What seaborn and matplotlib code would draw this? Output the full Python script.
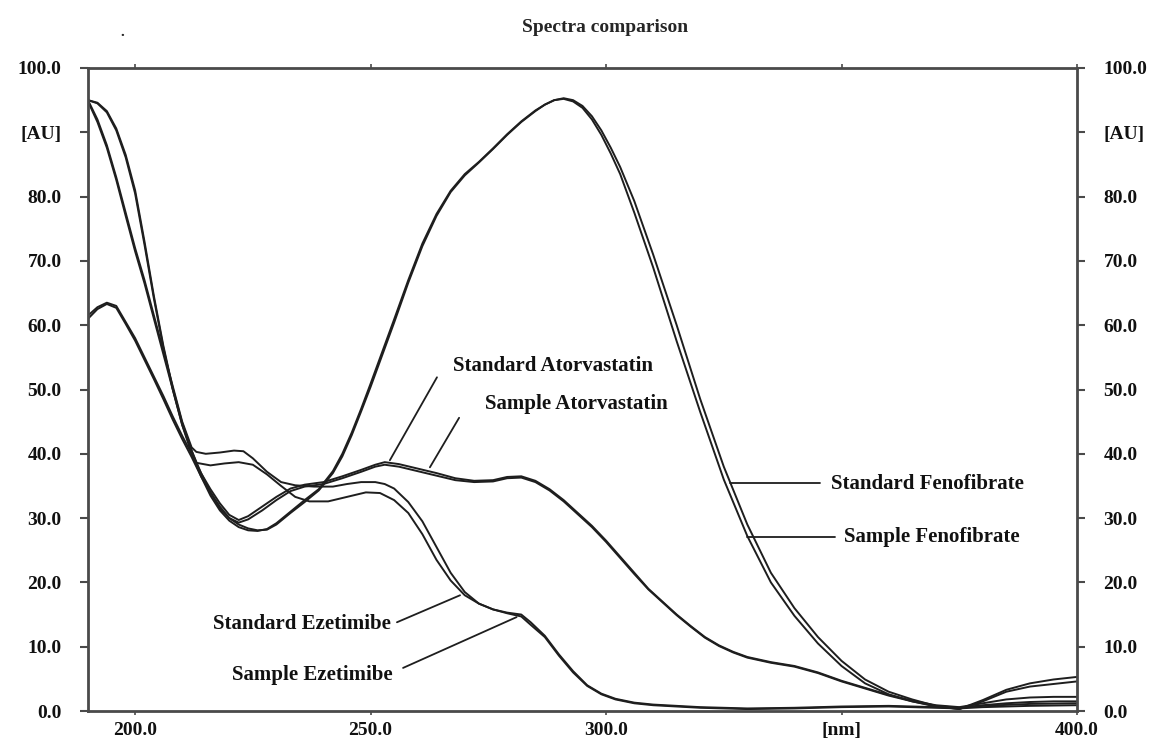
import matplotlib
matplotlib.use("Agg")
import matplotlib.pyplot as plt
import seaborn as sns

# --------------------------------------------------------------
# Spectra (wavelength in nm, absorbance in AU)
# --------------------------------------------------------------
std_feno_wl = [190, 192, 194, 196, 198, 200, 202, 204, 206, 208, 210, 212, 214, 216, 218, 220,
               222, 224, 226, 228, 230, 233, 236, 239, 242, 244, 246, 248, 250, 252, 255, 258,
               261, 264, 267, 270, 273, 276, 279, 282, 285, 287, 289, 291, 293, 295, 297, 299,
               301, 303, 306, 310, 315, 320, 325, 330, 335, 340, 345, 350, 355, 360, 365, 370,
               375, 380, 385, 390, 395, 400]
std_feno_au = [95.0, 94.6, 93.3, 90.6, 86.5, 81.0, 73.0, 64.5, 56.8, 50.2, 44.8, 40.5, 37.0, 34.0, 31.5, 30.0,
               29.0, 28.4, 28.1, 28.2, 29.0, 30.8, 32.5, 34.3, 37.0, 39.6, 42.9, 46.6, 50.4, 54.4, 60.4, 66.6,
               72.3, 77.0, 80.7, 83.3, 85.3, 87.4, 89.6, 91.6, 93.3, 94.3, 95.0, 95.3, 95.0, 94.1, 92.5, 90.3,
               87.6, 84.6, 79.3, 71.0, 60.0, 48.5, 38.0, 29.0, 21.5, 16.0, 11.5, 7.8, 4.9, 3.0, 1.8, 0.8,
               0.3, 1.7, 3.3, 4.3, 4.9, 5.3]

smp_feno_wl = [190, 192, 194, 196, 198, 200, 202, 204, 206, 208, 210, 212, 214, 216, 218, 220,
               222, 224, 226, 228, 230, 233, 236, 239, 242, 244, 246, 248, 250, 252, 255, 258,
               261, 264, 267, 270, 273, 276, 279, 282, 285, 287, 289, 291, 293, 295, 297, 299,
               301, 303, 306, 310, 315, 320, 325, 330, 335, 340, 345, 350, 355, 360, 365, 370,
               375, 380, 385, 390, 395, 400]
smp_feno_au = [95.0, 94.5, 93.1, 90.3, 86.1, 80.5, 72.5, 64.1, 56.5, 50.0, 44.5, 40.0, 36.5, 33.5, 31.2, 29.6,
               28.6, 28.1, 28.0, 28.3, 29.2, 31.0, 32.8, 34.5, 37.3, 40.0, 43.3, 47.0, 50.9, 54.9, 60.9, 67.0,
               72.7, 77.3, 80.9, 83.5, 85.4, 87.5, 89.7, 91.7, 93.4, 94.3, 95.0, 95.2, 94.8, 93.8, 92.0, 89.6,
               86.7, 83.5, 77.5, 69.0, 57.5, 46.5, 36.0, 27.2, 20.0, 14.8, 10.5, 7.0, 4.3, 2.6, 1.5, 0.7,
               0.3, 1.5, 3.0, 3.8, 4.2, 4.6]

std_ator_wl = [190, 192, 194, 196, 198, 200, 202, 204, 206, 208, 210, 212, 214, 216, 218, 220,
               222, 224, 227, 230, 233, 236, 240, 244, 248, 251, 253, 256, 260, 264, 268, 272,
               276, 279, 282, 285, 288, 291, 294, 297, 300, 303, 306, 309, 312, 315, 318, 321,
               324, 327, 330, 335, 340, 345, 350, 355, 360, 365, 370, 375, 380, 385, 390, 395, 400]
std_ator_au = [61.5, 62.8, 63.5, 63.0, 60.5, 58.0, 55.0, 52.0, 49.0, 45.8, 42.8, 40.0, 37.0, 34.5, 32.3, 30.5,
               29.7, 30.3, 31.8, 33.3, 34.6, 35.2, 35.6, 36.5, 37.5, 38.3, 38.7, 38.4, 37.7, 37.0, 36.2, 35.8,
               35.9, 36.4, 36.5, 35.8, 34.5, 32.8, 30.8, 28.8, 26.5, 24.0, 21.5, 19.0, 17.0, 15.0, 13.2, 11.5,
               10.2, 9.2, 8.4, 7.6, 7.0, 6.0, 4.7, 3.6, 2.5, 1.6, 0.9, 0.6, 1.2, 1.8, 2.1, 2.2, 2.2]

smp_ator_wl = [190, 192, 194, 196, 198, 200, 202, 204, 206, 208, 210, 212, 214, 216, 218, 220,
               222, 224, 227, 230, 233, 236, 240, 244, 248, 251, 253, 256, 260, 264, 268, 272,
               276, 279, 282, 285, 288, 291, 294, 297, 300, 303, 306, 309, 312, 315, 318, 321,
               324, 327, 330, 335, 340, 345, 350, 355, 360, 365, 370, 375, 380, 385, 390, 395, 400]
smp_ator_au = [61.0, 62.5, 63.3, 62.7, 60.2, 57.6, 54.6, 51.6, 48.5, 45.3, 42.3, 39.5, 36.5, 34.0, 31.8, 30.0,
               29.3, 29.8, 31.2, 32.8, 34.2, 34.9, 35.3, 36.2, 37.2, 38.0, 38.3, 38.0, 37.3, 36.6, 35.9, 35.6,
               35.7, 36.2, 36.3, 35.6, 34.3, 32.6, 30.6, 28.6, 26.3, 23.8, 21.3, 18.9, 16.9, 14.9, 13.1, 11.4,
               10.1, 9.1, 8.3, 7.5, 6.9, 5.9, 4.6, 3.5, 2.4, 1.5, 0.8, 0.5, 0.9, 1.2, 1.4, 1.5, 1.5]

std_ezet_wl = [190, 192, 194, 196, 198, 200, 202, 204, 206, 208, 210, 212, 213, 215, 218, 221,
               223, 225, 228, 231, 234, 238, 242, 245, 248, 251, 253, 255, 258, 261, 264, 267,
               270, 273, 276, 279, 282, 284, 287, 290, 293, 296, 299, 302, 306, 310, 320, 330,
               340, 350, 360, 370, 375, 380, 390, 400]
std_ezet_au = [95.0, 92.0, 88.0, 83.0, 77.5, 72.0, 67.0, 61.5, 56.0, 50.5, 45.0, 41.0, 40.3, 40.0, 40.2, 40.5,
               40.4, 39.3, 37.2, 35.6, 35.1, 34.9, 34.9, 35.3, 35.6, 35.6, 35.3, 34.6, 32.5, 29.5, 25.5, 21.5,
               18.5, 16.7, 15.8, 15.3, 15.0, 13.8, 11.7, 8.8, 6.2, 4.0, 2.7, 1.9, 1.3, 1.0, 0.6, 0.4,
               0.5, 0.7, 0.8, 0.6, 0.5, 0.8, 1.1, 1.2]

smp_ezet_wl = [190, 192, 194, 196, 198, 200, 202, 204, 206, 208, 210, 212, 213, 216, 219, 222,
               225, 228, 231, 234, 237, 241, 245, 249, 252, 255, 258, 261, 264, 267, 270, 273,
               276, 279, 282, 284, 287, 290, 293, 296, 299, 302, 306, 310, 320, 330, 340, 350,
               360, 370, 375, 380, 390, 400]
smp_ezet_au = [94.8, 91.6, 87.6, 82.6, 77.0, 71.5, 66.5, 61.0, 55.5, 50.0, 44.5, 40.5, 38.6, 38.2, 38.5, 38.7,
               38.3, 36.8, 35.0, 33.3, 32.6, 32.6, 33.3, 34.0, 33.9, 32.8, 30.8, 27.5, 23.5, 20.3, 18.0, 16.7,
               15.8, 15.2, 14.7, 13.4, 11.5, 8.6, 6.0, 3.9, 2.6, 1.8, 1.2, 0.9, 0.5, 0.3, 0.4, 0.6,
               0.7, 0.5, 0.4, 0.6, 0.8, 0.9]

series = [
    ("Standard Fenofibrate", std_feno_wl, std_feno_au),
    ("Sample Fenofibrate", smp_feno_wl, smp_feno_au),
    ("Standard Atorvastatin", std_ator_wl, std_ator_au),
    ("Sample Atorvastatin", smp_ator_wl, smp_ator_au),
    ("Standard Ezetimibe", std_ezet_wl, std_ezet_au),
    ("Sample Ezetimibe", smp_ezet_wl, smp_ezet_au),
]

# callout labels: text centre, then leader line start/end
label_names = ["Standard Atorvastatin", "Sample Atorvastatin", "Standard Fenofibrate",
               "Sample Fenofibrate", "Standard Ezetimibe", "Sample Ezetimibe"]
label_text_xy = [(288.7, 53.7), (293.8, 47.7), (368.3, 35.3), (369.2, 27.1), (235.4, 13.5), (237.6, 5.6)]
label_line_from = [(264.1, 51.9), (268.8, 45.6), (345.4, 35.4), (348.6, 27.1), (255.6, 13.8), (256.9, 6.7)]
label_line_to = [(254.1, 39.0), (262.6, 37.9), (326.3, 35.4), (329.9, 27.1), (269.0, 18.0), (281.0, 14.6)]

x_ticks = [200, 250, 300, 350, 400]
x_tick_labels = ["200.0", "250.0", "300.0", "[nm]", "400.0"]
y_ticks = [0, 10, 20, 30, 40, 50, 60, 70, 80, 90, 100]
y_tick_labels = ["0.0", "10.0", "20.0", "30.0", "40.0", "50.0", "60.0", "70.0", "80.0", "[AU]", "100.0"]

# --------------------------------------------------------------
# Plot
# --------------------------------------------------------------
sns.set_style("white")
plt.rcParams["font.family"] = ["Liberation Serif", "DejaVu Serif"]
plt.rcParams["font.weight"] = "bold"

fig = plt.figure(figsize=(11.58, 7.44), dpi=100)
ax = fig.add_axes([88 / 1158, 33 / 744, (1077 - 88) / 1158, (711 - 68) / 744])

line_color = "#1e1e1e"
for name, wl, au in series:
    sns.lineplot(x=wl, y=au, ax=ax, color=line_color, linewidth=1.4, estimator=None, sort=False)

for name, txy, p0, p1 in zip(label_names, label_text_xy, label_line_from, label_line_to):
    ax.plot([p0[0], p1[0]], [p0[1], p1[1]], color=line_color, linewidth=1.3)
    ax.text(txy[0], txy[1], name, ha="center", va="center", fontsize=15, fontweight="bold",
            color="#111111")

ax.set_xlim(190, 400)
ax.set_ylim(0, 100)
ax.set_xticks(x_ticks)
ax.set_xticklabels(x_tick_labels)
ax.set_yticks(y_ticks)
ax.set_yticklabels(y_tick_labels)

for side in ["left", "right", "top", "bottom"]:
    ax.spines[side].set_visible(True)
    ax.spines[side].set_color("#4a4a4a")
    ax.spines[side].set_linewidth(2)

ax.tick_params(axis="y", left=True, right=True, labelright=True, direction="out",
               length=6, width=1.5, color="#4a4a4a", pad=13, labelsize=14)
ax.tick_params(axis="x", bottom=True, top=True, direction="out", length=3, width=1.2,
               color="#4a4a4a", pad=5, labelsize=14)
for lbl in ax.get_xticklabels() + ax.get_yticklabels():
    lbl.set_fontweight("bold")
    lbl.set_color("#111111")

fig.text(605 / 1158, 1 - 27 / 744, "Spectra comparison", ha="center", va="center",
         fontsize=14, fontweight="bold")
fig.text(122 / 1158, 1 - 33 / 744, ".", ha="center", va="center", fontsize=11)

plt.savefig("out.png", format="png", dpi=100)
